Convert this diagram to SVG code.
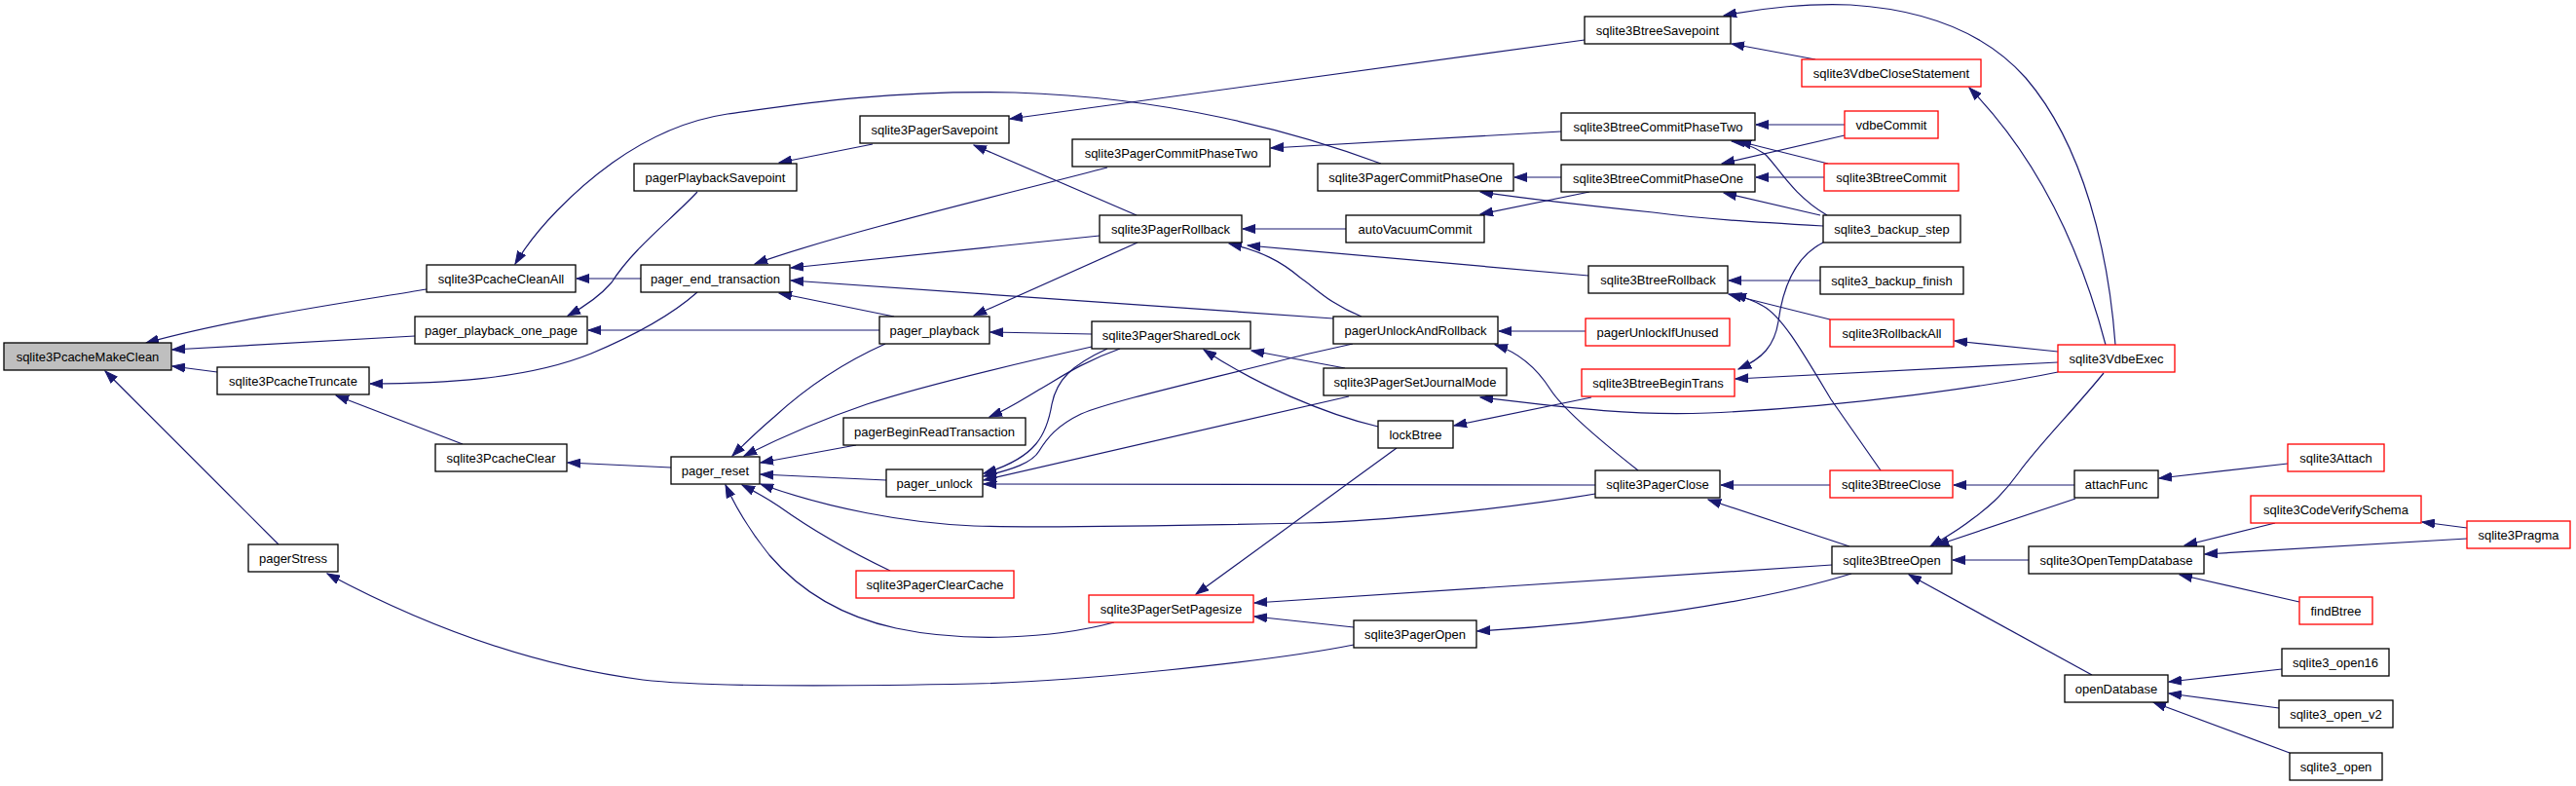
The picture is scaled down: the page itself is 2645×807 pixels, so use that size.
<svg xmlns="http://www.w3.org/2000/svg" width="2645" height="807" viewBox="0 0 2645 807">
<style>
.n rect{fill:#fff;stroke:#000;stroke-width:1.3}
.n.r rect{stroke:#f00}
.n.g rect{fill:#bfbfbf}
.n text{font-family:"Liberation Sans",Arial,sans-serif;font-size:13px;text-anchor:middle;fill:#000}
#edges path{fill:none;stroke:#191970;stroke-width:1.2;marker-end:url(#ah)}
</style>
<defs>
<marker id="ah" markerUnits="userSpaceOnUse" markerWidth="14" markerHeight="10" refX="13" refY="5" orient="auto">
<path d="M0,0.5 L13,5 L0,9.5 z" fill="#191970" stroke="#191970" stroke-width="1"/>
</marker>
</defs>
<rect width="2645" height="807" fill="#fff"/>
<g id="edges">
<path d="M438,297 C360,310 240,327 150,352"/>
<path d="M426,345 L177,359"/>
<path d="M223,382 L177,376"/>
<path d="M286,559 L108,381"/>
<path d="M658,286 L592,286"/>
<path d="M1418,168 C1330,135 1200,100 1042,95 C900,92 800,110 747,117 C700,124 660,145 629,167 C590,195 550,235 529,271"/>
<path d="M716,197 C690,225 650,255 628,290 C615,305 600,315 583,324"/>
<path d="M903,339 L604,339"/>
<path d="M716,300 C690,323 650,345 607,363 C540,390 450,394 380,394"/>
<path d="M689,480 L583,475"/>
<path d="M475,456 L345,406"/>
<path d="M1390,662 C1300,680 1100,700 1000,702 C850,705 720,705 660,698 C560,685 450,650 336,589"/>
<path d="M896,148 L800,167"/>
<path d="M1137,172 C1050,195 860,240 775,271"/>
<path d="M1129,242 L812,275"/>
<path d="M1369,327 L812,288"/>
<path d="M918,325 L800,301"/>
<path d="M1168,249 L1000,324"/>
<path d="M1627,41 L1037,122"/>
<path d="M1167,221 L1000,149"/>
<path d="M1603,135 L1305,152"/>
<path d="M1121,343 L1017,341"/>
<path d="M909,353 C860,375 820,405 795,428 C775,445 762,458 752,468"/>
<path d="M1121,356 C1050,372 950,395 890,415 C840,432 790,455 764,468"/>
<path d="M879,457 L781,475"/>
<path d="M910,493 L781,487"/>
<path d="M1638,507 C1550,522 1420,535 1340,537 C1200,540 1060,542 1000,540 C930,537 850,522 781,497"/>
<path d="M914,586 C870,565 835,545 800,520 C785,510 770,502 762,498"/>
<path d="M1144,639 C1080,656 990,660 920,645 C860,632 820,605 790,570 C770,545 755,520 745,498"/>
<path d="M1150,358 C1110,372 1085,390 1067,400 C1050,410 1035,420 1016,428"/>
<path d="M1137,358 C1100,375 1085,390 1080,415 C1075,445 1065,470 1010,486"/>
<path d="M1389,353 L1340,364 C1230,392 1140,412 1110,425 C1085,437 1075,450 1067,463 C1060,475 1040,482 1010,489"/>
<path d="M1385,407 L1010,493"/>
<path d="M1638,498 L1010,497"/>
<path d="M1415,438 C1360,425 1290,395 1236,359"/>
<path d="M1381,378 L1285,360"/>
<path d="M1634,408 L1493,437"/>
<path d="M1434,460 L1228,610"/>
<path d="M1881,580 L1288,619"/>
<path d="M1390,644 L1288,633"/>
<path d="M1901,589 C1800,620 1650,640 1517,648"/>
<path d="M1899,561 L1754,513"/>
<path d="M1879,498 L1767,498"/>
<path d="M1682,483 C1640,450 1605,420 1592,400 C1578,378 1560,362 1535,354"/>
<path d="M1628,340 L1539,340"/>
<path d="M2113,382 C2050,395 1900,418 1754,424 C1680,427 1620,420 1520,408"/>
<path d="M2113,372 L1782,389"/>
<path d="M2113,361 L2007,350"/>
<path d="M2162,354 C2140,270 2100,170 2022,90"/>
<path d="M2172,354 C2165,260 2140,150 2080,80 C2040,35 1980,10 1900,5 C1860,3 1810,8 1770,16"/>
<path d="M1864,61 L1778,45"/>
<path d="M1894,128 L1803,128"/>
<path d="M1894,139 L1768,168"/>
<path d="M1877,168 L1785,145"/>
<path d="M1873,182 L1803,182"/>
<path d="M1876,221 C1840,200 1825,170 1812,158 C1800,150 1790,146 1778,145"/>
<path d="M1869,221 L1770,198"/>
<path d="M1872,232 C1800,228 1750,225 1697,218 C1620,210 1560,203 1520,197"/>
<path d="M1603,182 L1555,182"/>
<path d="M1632,197 L1520,220"/>
<path d="M1872,249 C1840,265 1830,300 1826,330 C1822,355 1810,368 1785,379"/>
<path d="M1869,288 L1775,288"/>
<path d="M1879,328 L1775,302"/>
<path d="M1931,483 L1880,410 C1850,360 1830,325 1810,314 C1800,308 1790,305 1780,302"/>
<path d="M2130,498 L2006,498"/>
<path d="M2131,512 L1988,560"/>
<path d="M2160,383 C2130,420 2095,455 2073,485 C2055,510 2040,522 2025,533 C2010,545 1995,553 1982,561"/>
<path d="M2349,476 L2217,491"/>
<path d="M2083,575 L2005,575"/>
<path d="M2148,693 L1960,590"/>
<path d="M2336,537 L2243,560"/>
<path d="M2533,553 L2264,569"/>
<path d="M2533,542 L2487,536"/>
<path d="M2361,618 L2238,590"/>
<path d="M2343,687 L2227,700"/>
<path d="M2340,727 L2227,712"/>
<path d="M2351,773 L2211,721"/>
<path d="M1382,235 L1276,235"/>
<path d="M1631,283 L1281,252"/>
<path d="M1398,325 C1365,312 1350,295 1335,285 C1315,268 1295,258 1262,250"/>
</g>
<g id="n_makeclean" class="n g"><rect x="4" y="352" width="172" height="28"/><text x="90" y="370.5">sqlite3PcacheMakeClean</text></g>
<g id="n_truncate" class="n"><rect x="223" y="377" width="156" height="28"/><text x="301" y="395.5">sqlite3PcacheTruncate</text></g>
<g id="n_pagerstress" class="n"><rect x="255" y="559" width="92" height="28"/><text x="301" y="577.5">pagerStress</text></g>
<g id="n_cleanall" class="n"><rect x="438" y="272" width="153" height="28"/><text x="514.5" y="290.5">sqlite3PcacheCleanAll</text></g>
<g id="n_playonepage" class="n"><rect x="426" y="325" width="177" height="28"/><text x="514.5" y="343.5">pager_playback_one_page</text></g>
<g id="n_pcacheclear" class="n"><rect x="447" y="456" width="135" height="28"/><text x="514.5" y="474.5">sqlite3PcacheClear</text></g>
<g id="n_pbsavepoint" class="n"><rect x="651" y="168" width="167" height="28"/><text x="734.5" y="186.5">pagerPlaybackSavepoint</text></g>
<g id="n_endtrans" class="n"><rect x="658" y="272" width="153" height="28"/><text x="734.5" y="290.5">pager_end_transaction</text></g>
<g id="n_pager_reset" class="n"><rect x="689" y="469" width="91" height="28"/><text x="734.5" y="487.5">pager_reset</text></g>
<g id="n_pagersavepoint" class="n"><rect x="883" y="119" width="153" height="28"/><text x="959.5" y="137.5">sqlite3PagerSavepoint</text></g>
<g id="n_playback" class="n"><rect x="903" y="325" width="113" height="28"/><text x="959.5" y="343.5">pager_playback</text></g>
<g id="n_beginread" class="n"><rect x="866" y="429" width="187" height="28"/><text x="959.5" y="447.5">pagerBeginReadTransaction</text></g>
<g id="n_unlock" class="n"><rect x="910" y="482" width="99" height="28"/><text x="959.5" y="500.5">pager_unlock</text></g>
<g id="n_clearcache" class="n r"><rect x="879" y="586" width="162" height="28"/><text x="960" y="604.5">sqlite3PagerClearCache</text></g>
<g id="n_commit2" class="n"><rect x="1101" y="143" width="203" height="28"/><text x="1202.5" y="161.5">sqlite3PagerCommitPhaseTwo</text></g>
<g id="n_rollback" class="n"><rect x="1129" y="221" width="146" height="28"/><text x="1202" y="239.5">sqlite3PagerRollback</text></g>
<g id="n_sharedlock" class="n"><rect x="1121" y="330" width="163" height="28"/><text x="1202.5" y="348.5">sqlite3PagerSharedLock</text></g>
<g id="n_setpagesize" class="n r"><rect x="1118" y="611" width="169" height="28"/><text x="1202.5" y="629.5">sqlite3PagerSetPagesize</text></g>
<g id="n_commit1" class="n"><rect x="1353" y="168" width="201" height="28"/><text x="1453.5" y="186.5">sqlite3PagerCommitPhaseOne</text></g>
<g id="n_autovac" class="n"><rect x="1382" y="221" width="142" height="28"/><text x="1453" y="239.5">autoVacuumCommit</text></g>
<g id="n_unlockrollback" class="n"><rect x="1369" y="325" width="169" height="28"/><text x="1453.5" y="343.5">pagerUnlockAndRollback</text></g>
<g id="n_journalmode" class="n"><rect x="1359" y="378" width="188" height="28"/><text x="1453" y="396.5">sqlite3PagerSetJournalMode</text></g>
<g id="n_lockbtree" class="n"><rect x="1415" y="432" width="77" height="28"/><text x="1453.5" y="450.5">lockBtree</text></g>
<g id="n_pageropen" class="n"><rect x="1390" y="637" width="126" height="28"/><text x="1453" y="655.5">sqlite3PagerOpen</text></g>
<g id="n_btsavepoint" class="n"><rect x="1627" y="17" width="150" height="28"/><text x="1702" y="35.5">sqlite3BtreeSavepoint</text></g>
<g id="n_btcommit2" class="n"><rect x="1603" y="116" width="199" height="28"/><text x="1702.5" y="134.5">sqlite3BtreeCommitPhaseTwo</text></g>
<g id="n_btcommit1" class="n"><rect x="1603" y="169" width="199" height="28"/><text x="1702.5" y="187.5">sqlite3BtreeCommitPhaseOne</text></g>
<g id="n_btrollback" class="n"><rect x="1631" y="273" width="143" height="28"/><text x="1702.5" y="291.5">sqlite3BtreeRollback</text></g>
<g id="n_unlockifunused" class="n r"><rect x="1628" y="327" width="148" height="28"/><text x="1702" y="345.5">pagerUnlockIfUnused</text></g>
<g id="n_begintrans" class="n r"><rect x="1624" y="379" width="157" height="28"/><text x="1702.5" y="397.5">sqlite3BtreeBeginTrans</text></g>
<g id="n_pagerclose" class="n"><rect x="1638" y="483" width="128" height="28"/><text x="1702" y="501.5">sqlite3PagerClose</text></g>
<g id="n_closestmt" class="n r"><rect x="1850" y="61" width="184" height="28"/><text x="1942" y="79.5">sqlite3VdbeCloseStatement</text></g>
<g id="n_vdbecommit" class="n r"><rect x="1894" y="114" width="96" height="28"/><text x="1942" y="132.5">vdbeCommit</text></g>
<g id="n_btcommit" class="n r"><rect x="1873" y="168" width="138" height="28"/><text x="1942" y="186.5">sqlite3BtreeCommit</text></g>
<g id="n_backupstep" class="n"><rect x="1872" y="221" width="141" height="28"/><text x="1942.5" y="239.5">sqlite3_backup_step</text></g>
<g id="n_backupfinish" class="n"><rect x="1869" y="274" width="147" height="28"/><text x="1942.5" y="292.5">sqlite3_backup_finish</text></g>
<g id="n_rollbackall" class="n r"><rect x="1879" y="328" width="127" height="28"/><text x="1942.5" y="346.5">sqlite3RollbackAll</text></g>
<g id="n_btclose" class="n r"><rect x="1879" y="483" width="126" height="28"/><text x="1942" y="501.5">sqlite3BtreeClose</text></g>
<g id="n_btopen" class="n"><rect x="1881" y="561" width="123" height="28"/><text x="1942.5" y="579.5">sqlite3BtreeOpen</text></g>
<g id="n_vdbeexec" class="n r"><rect x="2113" y="354" width="120" height="28"/><text x="2173" y="372.5">sqlite3VdbeExec</text></g>
<g id="n_attachfunc" class="n"><rect x="2130" y="483" width="86" height="28"/><text x="2173" y="501.5">attachFunc</text></g>
<g id="n_opentemp" class="n"><rect x="2083" y="561" width="180" height="28"/><text x="2173" y="579.5">sqlite3OpenTempDatabase</text></g>
<g id="n_opendb" class="n"><rect x="2120" y="693" width="106" height="28"/><text x="2173" y="711.5">openDatabase</text></g>
<g id="n_attach" class="n r"><rect x="2349" y="456" width="99" height="28"/><text x="2398.5" y="474.5">sqlite3Attach</text></g>
<g id="n_codeverify" class="n r"><rect x="2311" y="509" width="175" height="28"/><text x="2398.5" y="527.5">sqlite3CodeVerifySchema</text></g>
<g id="n_findbtree" class="n r"><rect x="2361" y="613" width="75" height="28"/><text x="2398.5" y="631.5">findBtree</text></g>
<g id="n_open16" class="n"><rect x="2343" y="666" width="110" height="28"/><text x="2398" y="684.5">sqlite3_open16</text></g>
<g id="n_openv2" class="n"><rect x="2340" y="719" width="117" height="28"/><text x="2398.5" y="737.5">sqlite3_open_v2</text></g>
<g id="n_open" class="n"><rect x="2351" y="773" width="95" height="28"/><text x="2398.5" y="791.5">sqlite3_open</text></g>
<g id="n_pragma" class="n r"><rect x="2533" y="535" width="106" height="28"/><text x="2586" y="553.5">sqlite3Pragma</text></g>
</svg>
